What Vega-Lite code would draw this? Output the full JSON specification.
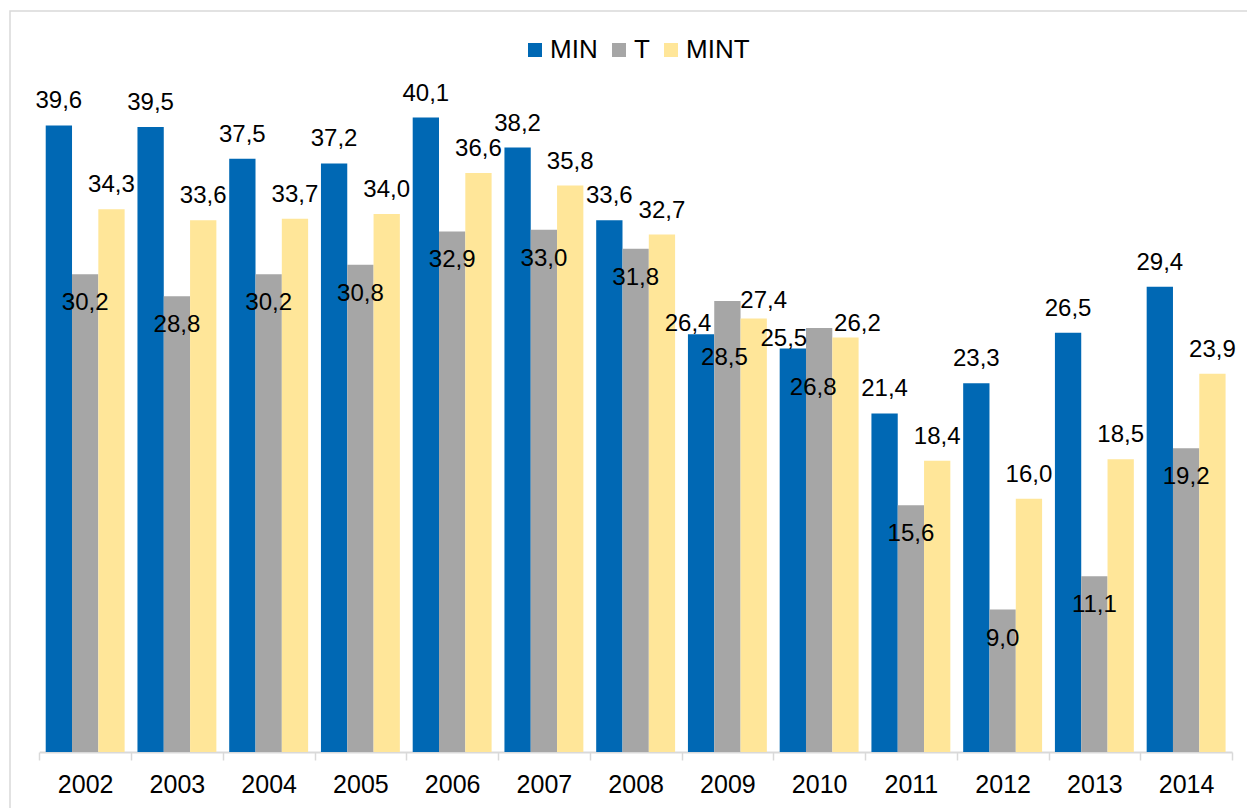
{
  "$schema": "https://vega.github.io/schema/vega-lite/v6.json",
  "autosize": "none",
  "padding": {"left": 10, "top": 11, "right": 0, "bottom": 0},
  "width": 1240,
  "height": 801,
  "background": "white",
  "config": {
    "locale": {"number": {"decimal": ",", "thousands": ".", "grouping": [3], "currency": ["", " €"]}},
    "view": {"stroke": "#D9D9D9", "strokeWidth": 1.5},
    "font": "Liberation Sans"
  },
  "data": {
    "values": [
      {"year": "2002", "series": "MIN", "value": 39.6},
      {"year": "2002", "series": "T", "value": 30.2},
      {"year": "2002", "series": "MINT", "value": 34.3},
      {"year": "2003", "series": "MIN", "value": 39.5},
      {"year": "2003", "series": "T", "value": 28.8},
      {"year": "2003", "series": "MINT", "value": 33.6},
      {"year": "2004", "series": "MIN", "value": 37.5},
      {"year": "2004", "series": "T", "value": 30.2},
      {"year": "2004", "series": "MINT", "value": 33.7},
      {"year": "2005", "series": "MIN", "value": 37.2},
      {"year": "2005", "series": "T", "value": 30.8},
      {"year": "2005", "series": "MINT", "value": 34.0},
      {"year": "2006", "series": "MIN", "value": 40.1},
      {"year": "2006", "series": "T", "value": 32.9},
      {"year": "2006", "series": "MINT", "value": 36.6},
      {"year": "2007", "series": "MIN", "value": 38.2},
      {"year": "2007", "series": "T", "value": 33.0},
      {"year": "2007", "series": "MINT", "value": 35.8},
      {"year": "2008", "series": "MIN", "value": 33.6},
      {"year": "2008", "series": "T", "value": 31.8},
      {"year": "2008", "series": "MINT", "value": 32.7},
      {"year": "2009", "series": "MIN", "value": 26.4},
      {"year": "2009", "series": "T", "value": 28.5},
      {"year": "2009", "series": "MINT", "value": 27.4},
      {"year": "2010", "series": "MIN", "value": 25.5},
      {"year": "2010", "series": "T", "value": 26.8},
      {"year": "2010", "series": "MINT", "value": 26.2},
      {"year": "2011", "series": "MIN", "value": 21.4},
      {"year": "2011", "series": "T", "value": 15.6},
      {"year": "2011", "series": "MINT", "value": 18.4},
      {"year": "2012", "series": "MIN", "value": 23.3},
      {"year": "2012", "series": "T", "value": 9.0},
      {"year": "2012", "series": "MINT", "value": 16.0},
      {"year": "2013", "series": "MIN", "value": 26.5},
      {"year": "2013", "series": "T", "value": 11.1},
      {"year": "2013", "series": "MINT", "value": 18.5},
      {"year": "2014", "series": "MIN", "value": 29.4},
      {"year": "2014", "series": "T", "value": 19.2},
      {"year": "2014", "series": "MINT", "value": 23.9}
    ]
  },
  "encoding": {
    "x": {
      "field": "year",
      "type": "ordinal",
      "scale": {"range": [29.3, 1222], "paddingInner": 0, "paddingOuter": 0},
      "axis": {
        "title": null,
        "labelAngle": 0,
        "labelFontSize": 25,
        "labelFont": "Liberation Sans",
        "labelColor": "#000000",
        "labelPadding": 12,
        "tickSize": 8,
        "tickColor": "#D9D9D9",
        "tickWidth": 1.5,
        "domainColor": "#D9D9D9",
        "domainWidth": 2,
        "tickBand": "extent",
        "offset": -60,
        "grid": false
      }
    },
    "xOffset": {
      "field": "series",
      "type": "nominal",
      "sort": ["MIN", "T", "MINT"],
      "scale": {"paddingInner": 0, "paddingOuter": 0.244}
    },
    "y": {
      "field": "value",
      "type": "quantitative",
      "scale": {"domain": [0, 45], "range": [741, 29], "nice": false, "zero": true},
      "axis": null
    }
  },
  "layer": [
    {
      "mark": {"type": "bar"},
      "encoding": {
        "color": {
          "field": "series",
          "type": "nominal",
          "scale": {"domain": ["MIN", "T", "MINT"], "range": ["#0068B4", "#A6A6A6", "#FFE699"]},
          "legend": {
            "orient": "none",
            "legendX": 512,
            "legendY": 26,
            "direction": "horizontal",
            "columns": 3,
            "gridAlign": "none",
            "title": null,
            "symbolType": "square",
            "symbolSize": 196,
            "symbolStrokeWidth": 0,
            "labelFontSize": 26,
            "labelFont": "Liberation Sans",
            "labelColor": "#000000",
            "labelOffset": 2,
            "columnPadding": 8,
            "padding": 0
          }
        }
      }
    },
    {
      "transform": [{"filter": "datum.series !== 'T'"}],
      "mark": {
        "type": "text",
        "baseline": "alphabetic",
        "dx": {"expr": "datum.year === '2009' ? (datum.series === 'MIN' ? -13 : 10) : datum.year === '2010' ? (datum.series === 'MIN' ? -9 : 12) : 0"},
        "dy": {"expr": "datum.year === '2009' ? (datum.series === 'MIN' ? -3 : -10) : datum.year === '2010' ? (datum.series === 'MIN' ? -3 : -6) : -17"},
        "fontSize": 24,
        "font": "Liberation Sans",
        "color": "#000000"
      },
      "encoding": {"text": {"field": "value", "type": "quantitative", "format": ".1f"}}
    },
    {
      "transform": [{"filter": "datum.series === 'T'"}],
      "mark": {
        "type": "text",
        "baseline": "alphabetic",
        "dx": {"expr": "datum.year === '2009' ? -3 : datum.year === '2010' ? -6 : 0"},
        "dy": {"expr": "datum.year === '2009' ? 64 : datum.year === '2010' ? 67 : 36"},
        "fontSize": 24,
        "font": "Liberation Sans",
        "color": "#000000"
      },
      "encoding": {"text": {"field": "value", "type": "quantitative", "format": ".1f"}}
    }
  ]
}
